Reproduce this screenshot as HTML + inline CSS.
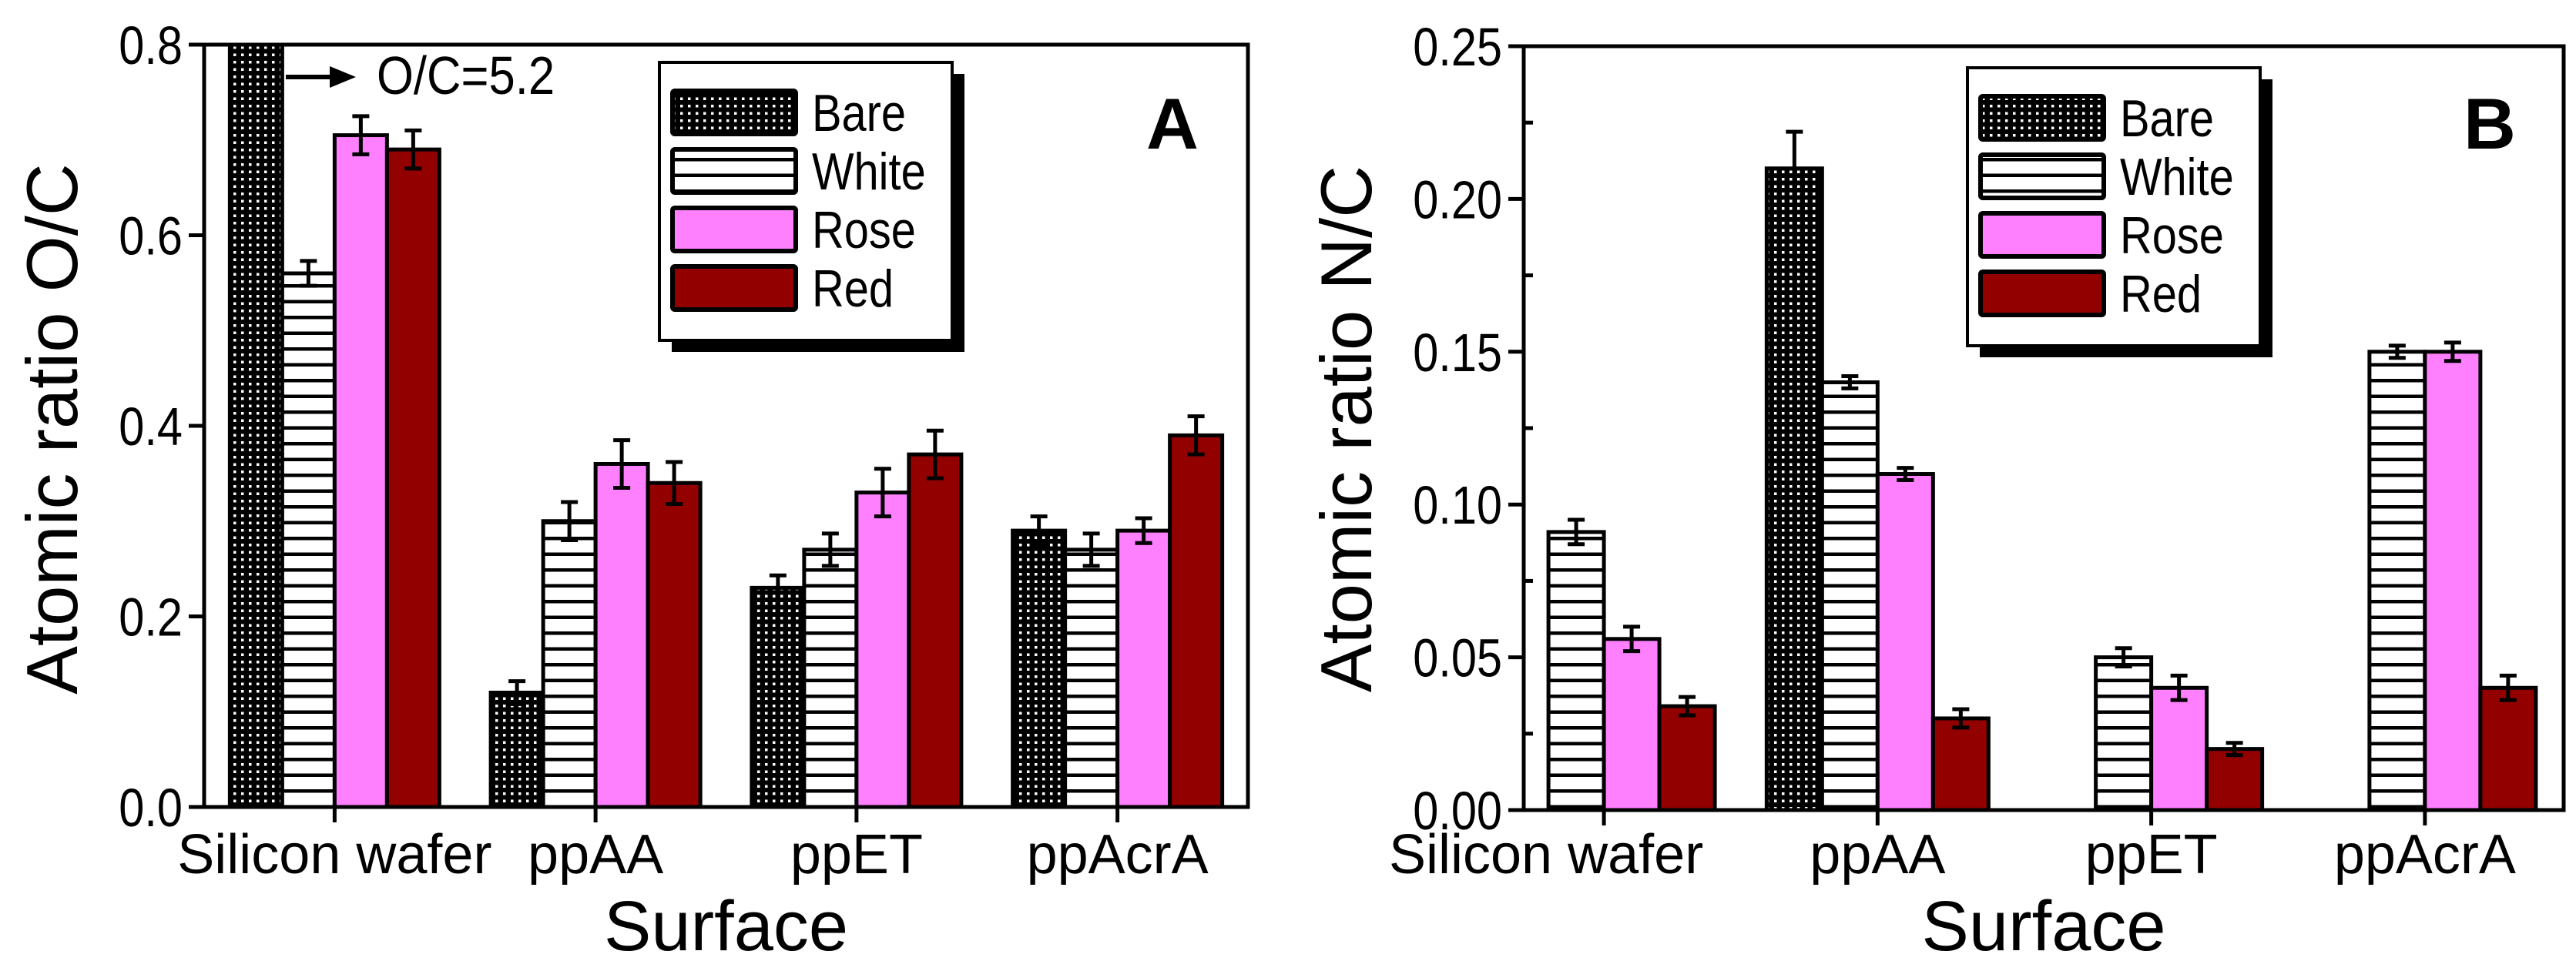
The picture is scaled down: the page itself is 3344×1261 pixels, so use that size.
<!DOCTYPE html>
<html><head><meta charset="utf-8"><style>
html,body{margin:0;padding:0;background:#fff;}
svg{display:block;}
text{font-family:"Liberation Sans",sans-serif;fill:#000;}
.n{font-family:"Liberation Sans Narrow","Liberation Sans",sans-serif;}
</style></head><body>
<svg id="chart" width="3344" height="1261" viewBox="0 0 3344 1261">
<defs>
<pattern id="dots" width="10" height="9.5" patternUnits="userSpaceOnUse">
<rect width="10" height="9.5" fill="#000"/><rect x="3" y="3" width="3.5" height="3.5" fill="#fff"/>
</pattern>
<pattern id="hlines" width="20" height="20.5" patternUnits="userSpaceOnUse" y="0">
<rect width="20" height="20.5" fill="#fff"/><rect y="0" width="20" height="4.5" fill="#000"/>
</pattern>
</defs>
<g id="panelA"></g>
<g id="panelB"></g>
</svg>
<script>
const categories = ["Silicon wafer","ppAA","ppET","ppAcrA"];
const seriesNames = ["Bare","White","Rose","Red"];
// Panel A: O/C (null = no bar). Silicon bare = 5.2 (off scale)
const ocBare  = [5.2, 0.12, 0.23, 0.29];
const ocWhite = [0.56, 0.30, 0.27, 0.27];
const ocRose  = [0.705, 0.36, 0.33, 0.29];
const ocRed   = [0.69, 0.34, 0.37, 0.39];
const ocBareErr  = [null, 0.012, 0.013, 0.015];
const ocWhiteErr = [0.013, 0.02, 0.017, 0.017];
const ocRoseErr  = [0.02, 0.025, 0.025, 0.013];
const ocRedErr   = [0.02, 0.022, 0.025, 0.02];
const ocTicks = ["0.0","0.2","0.4","0.6","0.8"];
// Panel B: N/C
const ncBare  = [null, 0.21, null, null];
const ncWhite = [0.091, 0.14, 0.05, 0.15];
const ncRose  = [0.056, 0.11, 0.04, 0.15];
const ncRed   = [0.034, 0.03, 0.02, 0.04];
const ncBareErr  = [null, 0.012, null, null];
const ncWhiteErr = [0.004, 0.002, 0.003, 0.002];
const ncRoseErr  = [0.004, 0.002, 0.004, 0.003];
const ncRedErr   = [0.003, 0.003, 0.002, 0.004];
const ncTicks = ["0.00","0.05","0.10","0.15","0.20","0.25"];

const NS="http://www.w3.org/2000/svg";
function mk(parent,tag,attrs,txt){const e=document.createElementNS(NS,tag);for(const k in attrs)e.setAttribute(k,attrs[k]);if(txt!=null)e.textContent=txt;parent.appendChild(e);return e;}
const fills=["url(#dots)","url(#hlines)","#FF80FF","#930000"];

function panel(g,cfg){
  const {x0,x1,y0,y1,dom,ymax,bw,series,errs,ticks,tickStep,minor,title,titleX,letter,letterX,legX,legY,labelOff}=cfg;
  const xs=i=>x0+(i-dom[0])/(dom[1]-dom[0])*(x1-x0);
  const ys=v=>y0-v/ymax*(y0-y1);
  for(let s=0;s<4;s++){
    for(let c=0;c<categories.length;c++){
      const v=series[s][c]; if(v==null) continue;
      const bx=xs(c)+(s-2)*bw;
      const top=Math.max(ys(v),y1);
      const r=mk(g,'rect',{x:bx,y:top,width:bw,height:y0-top,fill:fills[s],stroke:'#000','stroke-width':5});
      
      
      const e=errs[s][c];
      if(e!=null && ys(v)>y1){
        const cx=bx+bw/2;
        const eb=mk(g,'path',{d:`M${cx},${ys(v+e)}V${ys(v-e)}M${cx-11},${ys(v+e)}H${cx+11}M${cx-11},${ys(v-e)}H${cx+11}`,stroke:'#000','stroke-width':5,fill:'none'});
        
        
      }
    }
  }
  const fr=mk(g,'rect',{x:x0,y:y1,width:x1-x0,height:y0-y1,fill:'none',stroke:'#000','stroke-width':5});
  
  
  ticks.forEach((t,i)=>{
    const y=ys(i*tickStep);
    mk(g,'line',{x1:x0-20,x2:x0,y1:y,y2:y,stroke:'#000','stroke-width':5});
    const tl=mk(g,'text',{x:0,y:0,'text-anchor':'end','font-size':70,class:'n',transform:`translate(${x0-28},${y+25}) scale(0.85,1)`},t);
    
    
    if(minor && i<ticks.length-1){const ym=ys((i+0.5)*tickStep);mk(g,'line',{x1:x0,x2:x0+12,y1:ym,y2:ym,stroke:'#000','stroke-width':5});}
  });
  categories.forEach((c,i)=>{
    const x=xs(i);
    mk(g,'line',{x1:x,x2:x,y1:y0,y2:y0+20,stroke:'#000','stroke-width':5});
    const t=mk(g,'text',{x:x+labelOff[i],y:1134,'text-anchor':'middle','font-size':72,class:'n'},c);
    
    
  });
  const xt=mk(g,'text',{x:(x0+x1)/2,y:1234,'text-anchor':'middle','font-size':92},'Surface');
  
  
  const yt=mk(g,'text',{x:titleX,y:557,'text-anchor':'middle','font-size':94,transform:`rotate(-90 ${titleX} 557)`},title);
  
  
  const lt=mk(g,'text',{x:letterX,y:193,'font-size':94,'font-weight':'bold'},letter);
  
  
  const lg=mk(g,'g',{});
  
  
  mk(lg,'rect',{x:legX+16,y:legY+15,width:380,height:361,fill:'#000'});
  mk(lg,'rect',{x:legX,y:legY,width:380,height:361,fill:'#fff',stroke:'#000','stroke-width':4});
  seriesNames.forEach((n,i)=>{
    const yy=legY+37+i*76;
    const sw=mk(lg,'rect',{x:legX+17,y:yy,width:160,height:56,fill:fills[i],stroke:'#000','stroke-width':6,rx:3});
    
    
    const t=mk(lg,'text',{x:0,y:0,'font-size':68,class:'n',transform:`translate(${legX+198},${yy+52}) scale(0.85,1)`},n);
    
    
  });
}
const labelOffA=[0,0,0,0];
const labelOffB=[-75,0,0,0];
panel(document.getElementById('panelA'),{x0:265,x1:1620,y0:1048,y1:58,dom:[-0.5,3.5],ymax:0.8,bw:68,
  series:[ocBare,ocWhite,ocRose,ocRed],errs:[ocBareErr,ocWhiteErr,ocRoseErr,ocRedErr],
  ticks:ocTicks,tickStep:0.2,minor:false,title:'Atomic ratio O/C',titleX:100,letter:'A',letterX:1488,legX:856,legY:81,labelOff:labelOffA});
panel(document.getElementById('panelB'),{x0:1978,x1:3328,y0:1052,y1:60,dom:[-0.293,3.507],ymax:0.25,bw:72,
  series:[ncBare,ncWhite,ncRose,ncRed],errs:[ncBareErr,ncWhiteErr,ncRoseErr,ncRedErr],
  ticks:ncTicks,tickStep:0.05,minor:true,title:'Atomic ratio N/C',titleX:1780,letter:'B',letterX:3198,legX:2554,legY:88,labelOff:labelOffB});
const ga=document.getElementById('panelA');
const ar=mk(ga,'path',{d:'M371,100H432',stroke:'#000','stroke-width':6});


const ah=mk(ga,'path',{d:'M428,86L462,100L428,114Z',fill:'#000'});


const at=mk(ga,'text',{x:0,y:0,'font-size':70,class:'n',transform:'translate(489,122) scale(0.88,1)'},'O/C=5.2');


</script>
</body></html>
